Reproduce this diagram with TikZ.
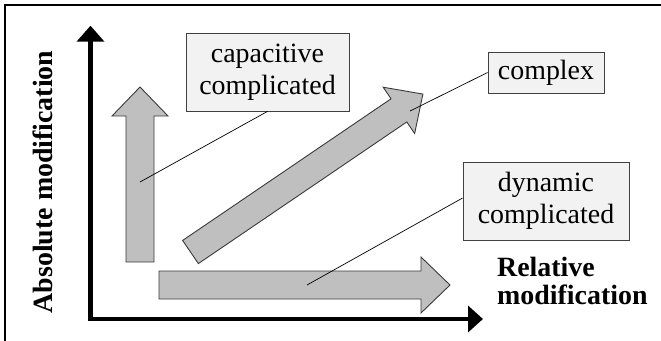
\documentclass[tikz,border=0pt]{standalone}
\usepackage{fontspec}
\setmainfont{Liberation Serif}
\usetikzlibrary{arrows.meta,calc}
\definecolor{arrowfill}{HTML}{BFBFBF}
\definecolor{arrowline}{HTML}{3A3A3A}
\definecolor{boxfill}{HTML}{F2F2F2}
\definecolor{boxline}{HTML}{404040}
\begin{document}
\begin{tikzpicture}[x=1bp,y=-1bp,
  fatarrow/.style={fill=arrowfill, draw=arrowline, line width=0.9bp, line join=miter},
  labelbox/.style={draw=boxline, fill=boxfill, line width=0.8bp, font=\fontsize{28}{32}\selectfont, align=center, inner sep=0pt},
  leader/.style={draw=black, line width=0.7bp},
  axis/.style={line width=4.5bp, line join=miter, {Triangle[width=27bp,length=16bp]}-{Triangle[width=26bp,length=15bp]}},
  axislabel/.style={font=\bfseries\fontsize{28}{29}\selectfont, inner sep=0pt}]
\clip (0,0) rectangle (661,340);
% frame
\draw[line width=1.5bp] (5,5) rectangle (680,360);
% axes
\coordinate (ytip) at (90.5,25.7);
\coordinate (origin) at (90.5,319);
\coordinate (xtip) at (483,319);
\draw[axis] (ytip) -- (origin) -- (xtip);
% fat arrows
\begin{scope}[shift={(140,262)}, rotate=90]
  \draw[fatarrow] (0,-14) -- (146,-14) -- (146,-28) -- (175,0) -- (146,28) -- (146,14) -- (0,14) -- cycle;
\end{scope}
\begin{scope}[shift={(159,285)}]
  \draw[fatarrow] (0,-14) -- (262,-14) -- (262,-28) -- (291,0) -- (262,28) -- (262,14) -- (0,14) -- cycle;
\end{scope}
\begin{scope}[shift={(190.5,252)}, rotate=34.2]
  \draw[fatarrow] (0,-14) -- (252,-14) -- (252,-28) -- (281,0) -- (252,28) -- (252,14) -- (0,14) -- cycle;
\end{scope}
% label boxes
\node[labelbox, minimum width=163bp, minimum height=78bp] (capbox) at (267.5,72) {capacitive\\complicated};
\node[labelbox, minimum width=116bp, minimum height=41bp] (cplxbox) at (546,72.5) {complex};
\node[labelbox, minimum width=166bp, minimum height=78bp] (dynbox) at (546,201) {dynamic\\complicated};
% leader ends
\coordinate (capend) at (140,182);
\coordinate (cplxend) at (410,111);
\coordinate (dynend) at (307,285);
\draw[leader] (capbox.south) -- (capend);
\draw[leader] (cplxbox.west) -- (cplxend);
\draw[leader] ($(dynbox.west)+(0,-3)$) -- (dynend);
% axis labels
\node[axislabel, rotate=90, anchor=base] (ylabel) at (52,182) {Absolute modification};
\node[axislabel, align=left, anchor=west] (xlabel) at (497,281) {Relative\\modification};
\end{tikzpicture}
\end{document}
